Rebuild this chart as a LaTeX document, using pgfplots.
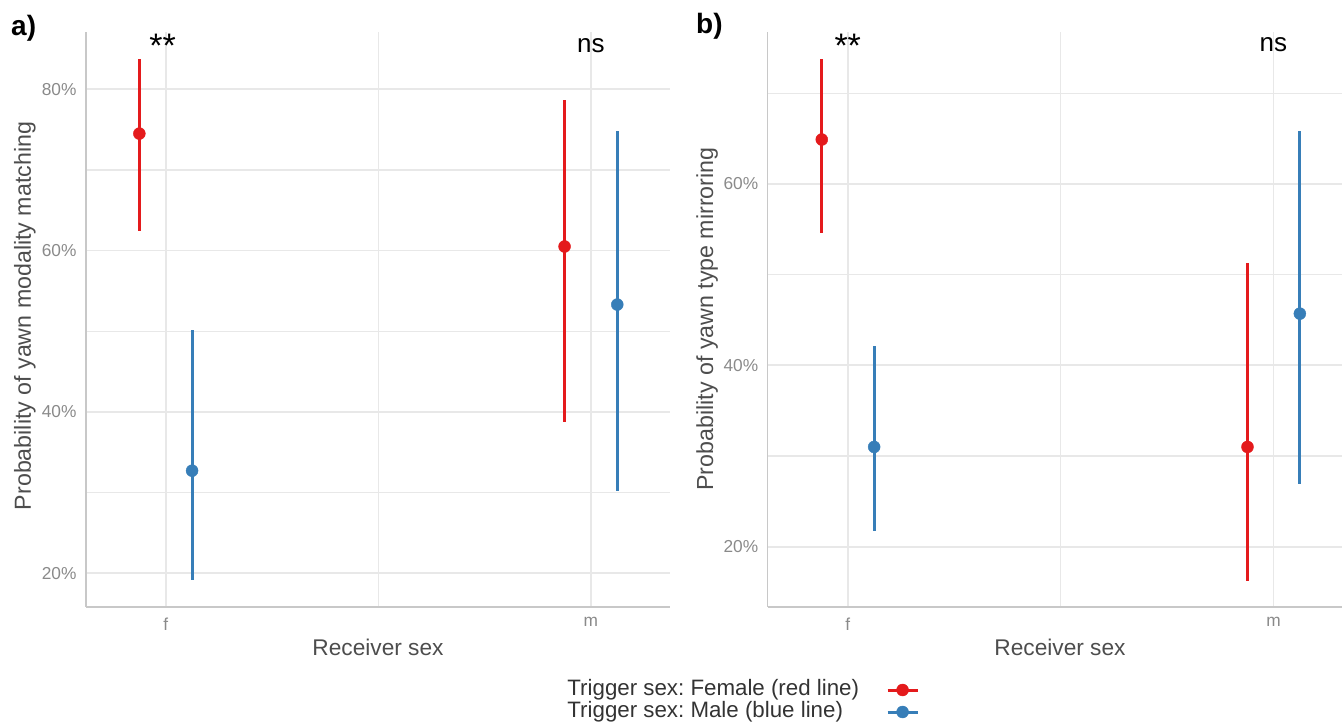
\documentclass[border=0pt]{standalone}
\usepackage{fontspec}
\setmainfont{Liberation Sans}
\usepackage{pgfplots}
\usepackage{pgfplotstable}
\pgfplotsset{compat=1.18}
\frenchspacing

\definecolor{setred}{HTML}{E41A1C}
\definecolor{setblue}{HTML}{377EB8}
\definecolor{gridgray}{HTML}{E8E8E8}
\definecolor{axgray}{HTML}{C8C8C8}
\definecolor{ticklab}{HTML}{8A8A8A}
\definecolor{titlegray}{HTML}{4D4D4D}

% columns: x position (dodged), estimate, lower CI, upper CI
\pgfplotstableread{
x y lo hi
0.938 74.5 62.4 83.8
1.938 60.5 38.8 78.7
}\aRed
\pgfplotstableread{
x y lo hi
1.062 32.7 19.2 50.1
2.062 53.3 30.2 74.8
}\aBlue
\pgfplotstableread{
x y lo hi
0.939 64.9 54.6 73.8
1.939 31.0 16.2 51.3
}\bRed
\pgfplotstableread{
x y lo hi
1.062 31.0 21.7 42.1
2.062 45.7 26.9 65.8
}\bBlue

\pgfplotsset{
  panel/.style={
    scale only axis,
    height=575pt,
    axis lines*=left,
    axis line style={axgray, line width=1.5pt, -},
    tick style={draw=none},
    grid=both,
    major grid style={gridgray, line width=1.8pt},
    minor grid style={gridgray, line width=1.3pt},
    xtick={1,2},
    xticklabels={f,m},
    minor xtick={1.5},
    tick label style={font=\fontsize{17.3}{20}\selectfont, text=ticklab},
    xticklabel style={yshift=-7pt},
    yticklabel style={xshift=-6pt},
    clip=false,
  },
  ci/.style={
    only marks,
    mark=*,
    mark size=6pt,
    mark options={draw=#1, fill=#1},
    error bars/.cd,
      y dir=both, y explicit,
      error mark=none,
      error bar style={#1, line width=3pt},
  },
  key/.style={
    legend image code/.code={
      \draw[#1, line width=3pt] (0pt,0pt) -- (30pt,0pt);
      \fill[#1] (15pt,0pt) circle (6pt);}},
}

\newcommand{\ciplot}[2]{%
  \addplot[forget plot, ci=#1] table[x=x, y=y,
    y error plus expr={\thisrow{hi}-\thisrow{y}},
    y error minus expr={\thisrow{y}-\thisrow{lo}}] {#2};}

\begin{document}
\begin{tikzpicture}
\useasboundingbox (0,0) rectangle (1342pt,725pt);

% panel a
\begin{axis}[panel,
  at={(86pt,118pt)}, anchor=south west,
  width=584pt,
  xmin=0.8125, xmax=2.186,
  ymin=15.8, ymax=87.1,
  ytick={20,40,60,80},
  yticklabels={20\%,40\%,60\%,80\%},
  minor ytick={30,50,70},
  legend plot pos=right,
  legend style={at={(axis description cs:0.8189,-0.1635)}, anchor=west,
    draw=none, fill=none, font=\fontsize{22.3}{22}\selectfont, text=black!80,
    row sep=0pt, column sep=27pt, legend cell align=left,
    nodes={inner sep=0pt, text height=16pt, text depth=6pt}},
]
\ciplot{setred}{\aRed}
\ciplot{setblue}{\aBlue}
\addlegendimage{key=setred}
\addlegendentry{Trigger sex: Female (red line)}
\addlegendimage{key=setblue}
\addlegendentry{Trigger sex: Male (blue line)}
\node[anchor=base, xshift=-3pt, font=\fontsize{34}{34}\selectfont] at (axis cs:1,83.95) {**};
\node[anchor=base, font=\fontsize{26}{26}\selectfont] at (axis cs:2,84.6) {ns};
\end{axis}

% panel b
\begin{axis}[panel,
  at={(767.7pt,118pt)}, anchor=south west,
  width=574.3pt,
  xmin=0.812, xmax=2.161,
  ymin=13.35, ymax=76.76,
  ytick={20,40,60},
  yticklabels={20\%,40\%,60\%},
  minor ytick={30,50,70},
]
\ciplot{setred}{\bRed}
\ciplot{setblue}{\bBlue}
\node[anchor=base, font=\fontsize{34}{34}\selectfont] at (axis cs:1,73.96) {**};
\node[anchor=base, font=\fontsize{26}{26}\selectfont] at (axis cs:2,74.56) {ns};
\end{axis}

% titles and panel tags
\begin{scope}[every node/.style={text=titlegray}]
\node[anchor=base, font=\fontsize{22.7}{24}\selectfont] at (378pt,69pt) {Receiver sex};
\node[anchor=base, font=\fontsize{22.7}{24}\selectfont] at (1060pt,69pt) {Receiver sex};
\node[rotate=90, anchor=base, font=\fontsize{23.2}{24}\selectfont] at (31pt,409pt) {Probability of yawn modality matching};
\node[rotate=90, anchor=base, font=\fontsize{23.2}{24}\selectfont] at (713pt,406pt) {Probability of yawn type mirroring};
\end{scope}
\node[anchor=base west, inner sep=0pt, font=\fontsize{28}{28}\selectfont\bfseries] at (11pt,689pt) {a)};
\node[anchor=base west, inner sep=0pt, font=\fontsize{28}{28}\selectfont\bfseries] at (696pt,691pt) {b)};
\end{tikzpicture}
\end{document}
